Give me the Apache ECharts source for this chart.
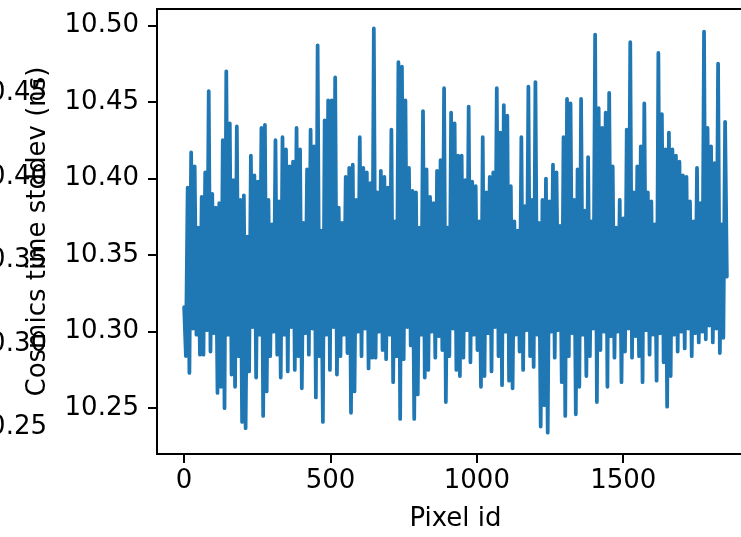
<!DOCTYPE html>
<html>
<head>
<meta charset="utf-8">
<script src="https://cdn.jsdelivr.net/npm/echarts@6/dist/echarts.min.js"></script>
<style>
  html, body { margin: 0; padding: 0; background: #fff; }
  #chart { width: 741px; height: 537px; }
</style>
</head>
<body>
<div id="chart"></div>
<script>
// stddev per pixel (one reading every idStep pixels)
var idStep = 6;
var stddev = [
  10.316, 10.284, 10.394, 10.273, 10.417, 10.302, 10.408, 10.298, 10.368, 10.285,
  10.388, 10.285, 10.404, 10.301, 10.457, 10.287, 10.390, 10.299, 10.381, 10.260,
  10.384, 10.264, 10.425, 10.250, 10.470, 10.298, 10.436, 10.272, 10.399, 10.264,
  10.434, 10.284, 10.386, 10.241, 10.389, 10.237, 10.362, 10.274, 10.415, 10.303,
  10.402, 10.270, 10.398, 10.298, 10.433, 10.245, 10.435, 10.261, 10.386, 10.284,
  10.370, 10.300, 10.425, 10.285, 10.385, 10.270, 10.427, 10.298, 10.419, 10.274,
  10.408, 10.303, 10.411, 10.275, 10.433, 10.284, 10.419, 10.263, 10.371, 10.299,
  10.406, 10.285, 10.432, 10.302, 10.421, 10.257, 10.487, 10.284, 10.366, 10.241,
  10.438, 10.298, 10.451, 10.275, 10.451, 10.303, 10.466, 10.272, 10.381, 10.284,
  10.371, 10.298, 10.401, 10.286, 10.407, 10.247, 10.409, 10.261, 10.386, 10.300,
  10.427, 10.284, 10.407, 10.302, 10.404, 10.276, 10.397, 10.283, 10.498, 10.283,
  10.391, 10.300, 10.405, 10.288, 10.401, 10.282, 10.394, 10.298, 10.432, 10.267,
  10.372, 10.284, 10.476, 10.243, 10.473, 10.282, 10.451, 10.303, 10.407, 10.291,
  10.392, 10.243, 10.391, 10.259, 10.368, 10.298, 10.444, 10.270, 10.406, 10.275,
  10.388, 10.300, 10.384, 10.283, 10.405, 10.297, 10.412, 10.288, 10.459, 10.254,
  10.368, 10.284, 10.443, 10.302, 10.436, 10.275, 10.415, 10.271, 10.415, 10.283,
  10.399, 10.301, 10.447, 10.280, 10.398, 10.298, 10.395, 10.288, 10.372, 10.264,
  10.427, 10.271, 10.391, 10.299, 10.401, 10.274, 10.404, 10.303, 10.459, 10.284,
  10.430, 10.265, 10.448, 10.300, 10.441, 10.268, 10.395, 10.263, 10.372, 10.298,
  10.366, 10.287, 10.427, 10.275, 10.382, 10.301, 10.460, 10.284, 10.386, 10.277,
  10.463, 10.298, 10.371, 10.238, 10.386, 10.252, 10.400, 10.234, 10.385, 10.300,
  10.409, 10.283, 10.404, 10.301, 10.369, 10.267, 10.427, 10.245, 10.452, 10.284,
  10.449, 10.299, 10.386, 10.246, 10.406, 10.264, 10.452, 10.298, 10.379, 10.271,
  10.414, 10.284, 10.372, 10.302, 10.494, 10.254, 10.446, 10.288, 10.433, 10.300,
  10.443, 10.264, 10.456, 10.297, 10.408, 10.283, 10.368, 10.300, 10.386, 10.267,
  10.374, 10.287, 10.432, 10.302, 10.489, 10.283, 10.391, 10.297, 10.408, 10.284,
  10.421, 10.267, 10.449, 10.301, 10.391, 10.285, 10.385, 10.298, 10.370, 10.268,
  10.482, 10.299, 10.442, 10.280, 10.419, 10.251, 10.430, 10.271, 10.419, 10.298,
  10.415, 10.287, 10.411, 10.300, 10.402, 10.289, 10.401, 10.302, 10.385, 10.284,
  10.372, 10.299, 10.407, 10.293, 10.384, 10.300, 10.496, 10.295, 10.433, 10.304,
  10.421, 10.293, 10.410, 10.302, 10.475, 10.286, 10.370, 10.296, 10.437, 10.336
];
var pixelIds = stddev.map(function (v, i) { return i * idStep; });

var xTicks = [0, 500, 1000, 1500];
var yTicks = [10.25, 10.30, 10.35, 10.40, 10.45, 10.50];
// stray tick labels of a neighbouring axis, cut by the left edge
var strayTicks = [10.25, 10.30, 10.35, 10.40, 10.45];

var font = 'DejaVu Sans';
var fontSize = 26;
var black = '#000';

var chart = echarts.init(document.getElementById('chart'), null, { renderer: 'canvas' });

var option = {
  backgroundColor: '#fff',
  animation: false,
  textStyle: { fontFamily: font, color: black },
  grid: [
    {
      left: 157, top: 9, width: 597, height: 445,
      show: true, borderColor: black, borderWidth: 2,
      containLabel: false, outerBoundsMode: 'none'
    },
    {
      left: 60, top: 93.5, width: 10, height: 334,
      containLabel: false, outerBoundsMode: 'none'
    }
  ],
  xAxis: [
    {
      gridIndex: 0,
      type: 'value',
      min: -92.7,
      max: 1946.7,
      name: 'Pixel id',
      nameLocation: 'middle',
      nameGap: 52,
      nameTextStyle: { fontFamily: font, fontSize: fontSize, color: black },
      axisLine: { show: true, onZero: false, lineStyle: { color: black, width: 2 } },
      axisTick: { show: true, inside: false, length: 9, lineStyle: { color: black, width: 2 }, customValues: xTicks },
      axisLabel: {
        show: true, margin: 14, fontFamily: font, fontSize: fontSize, color: black,
        customValues: xTicks,
        formatter: function (v) { return String(v); }
      },
      splitLine: { show: false }
    },
    {
      gridIndex: 1, type: 'value', show: false
    }
  ],
  yAxis: [
    {
      gridIndex: 0,
      type: 'value',
      min: 10.2201,
      max: 10.5107,
      name: 'Cosmics time stddev (ns)',
      nameLocation: 'middle',
      nameRotate: 90,
      nameGap: 106,
      nameTextStyle: { fontFamily: font, fontSize: fontSize, color: black },
      axisLine: { show: true, onZero: false, lineStyle: { color: black, width: 2 } },
      axisTick: { show: true, inside: false, length: 9, lineStyle: { color: black, width: 2 }, customValues: yTicks },
      axisLabel: {
        show: true, margin: 18, fontFamily: font, fontSize: fontSize, color: black,
        customValues: yTicks,
        formatter: function (v) { return v.toFixed(2); }
      },
      splitLine: { show: false }
    },
    {
      gridIndex: 1,
      type: 'value',
      min: 10.25,
      max: 10.45,
      axisLine: { show: false, onZero: false },
      axisTick: { show: false },
      axisLabel: {
        show: true, margin: 13, fontFamily: font, fontSize: fontSize, color: black,
        customValues: strayTicks,
        formatter: function (v) { return v.toFixed(2); }
      },
      splitLine: { show: false }
    }
  ],
  series: [
    {
      type: 'line',
      xAxisIndex: 0,
      yAxisIndex: 0,
      data: pixelIds.map(function (id, i) { return [id, stddev[i]]; }),
      showSymbol: false,
      symbol: 'none',
      sampling: null,
      clip: true,
      lineStyle: { color: '#1f77b4', width: 3.75, join: 'round', cap: 'round' },
      emphasis: { disabled: true }
    }
  ]
};

chart.setOption(option);
</script>
</body>
</html>
